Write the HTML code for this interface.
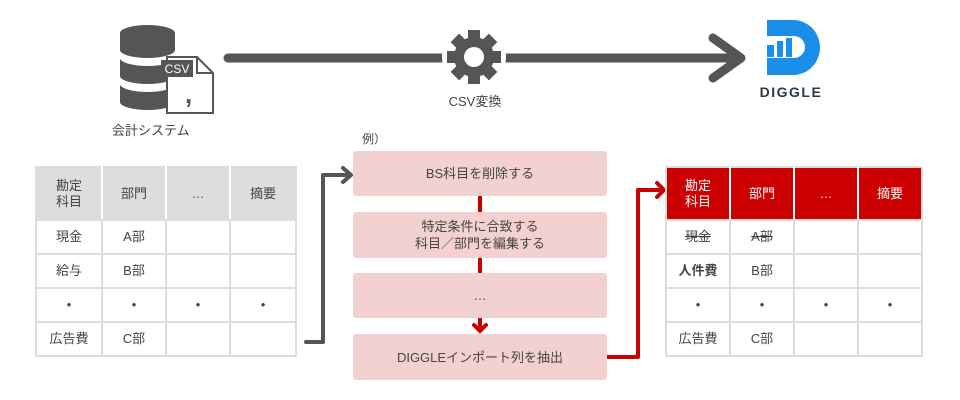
<!DOCTYPE html>
<html><head><meta charset="utf-8"><style>
body{margin:0;width:960px;height:400px;background:#fff;position:relative;overflow:hidden;font-family:"Liberation Sans","Noto Sans CJK JP",sans-serif;color:#444;}
.abs{position:absolute}
table{position:absolute;border-collapse:collapse;table-layout:fixed}
td{border:2px solid #ddd;text-align:center;font-size:13px;height:32px;padding:0;color:#444;line-height:16px}
.box{position:absolute;left:353px;width:254px;background:#f4d1d1;border-radius:3px;display:flex;align-items:center;justify-content:center;text-align:center;font-size:13px;color:#444;line-height:17px}
</style></head><body>
<svg class="abs" style="left:0;top:0" width="960" height="400">
 <line x1="228" y1="58" x2="740" y2="58" stroke="#555" stroke-width="9" stroke-linecap="round"/>
 <polyline points="713,38 741,58 713,78" fill="none" stroke="#555" stroke-width="9" stroke-linecap="round" stroke-linejoin="round"/>
 <circle cx="474" cy="57" r="32" fill="#fff"/>
 <g fill="#555" transform="translate(474,57)">
  <circle r="20"/>
  <g id="t"><rect x="-6" y="-27" width="12" height="12"/></g>
  <use href="#t" transform="rotate(45)"/><use href="#t" transform="rotate(90)"/><use href="#t" transform="rotate(135)"/>
  <use href="#t" transform="rotate(180)"/><use href="#t" transform="rotate(225)"/><use href="#t" transform="rotate(270)"/><use href="#t" transform="rotate(315)"/>
  <circle r="10" fill="#fff"/>
 </g>
 <g fill="#555">
  <path d="M120,33 a27.5,8 0 0 1 55,0 v17 a27.5,8 0 0 1 -55,0z"/>
  <path d="M120,58 a27.5,8 0 0 0 55,0 v18 a27.5,8 0 0 1 -55,0z"/>
  <path d="M120,84 a27.5,8 0 0 0 55,0 v18 a27.5,8 0 0 1 -55,0z"/>
 </g>
 <path d="M167,57 h30 l16,16 v40 h-46z" fill="#fff" stroke="#555" stroke-width="2"/>
 <path d="M197,57 v16 h16" fill="none" stroke="#555" stroke-width="2"/>
 <rect x="161" y="60" width="32" height="17" fill="#555"/>
 <text x="177" y="73" font-size="12" fill="#fff" text-anchor="middle" font-family="Liberation Sans">CSV</text>
 <text x="185" y="103" font-size="26" font-weight="bold" fill="#555" font-family="Liberation Sans">,</text>
 <!-- DIGGLE logo -->
 <path fill-rule="evenodd" fill="#1a8ee8" d="M767,20 h26 a27,27.5 0 0 1 0,55 h-26 z M767,36 h27 a11,11 0 0 1 0,22 h-27 z"/>
 <rect x="767" y="45" width="7" height="12" fill="#1a8ee8"/>
 <rect x="777" y="41" width="6" height="16" fill="#1a8ee8"/>
 <rect x="786" y="38" width="6" height="19" fill="#1a8ee8"/>
 <text x="791" y="97" font-size="14" font-weight="bold" fill="#2a3a44" text-anchor="middle" letter-spacing="1.5" font-family="Liberation Sans">DIGGLE</text>
 <polyline points="306,342 323,342 323,175 350,175" fill="none" stroke="#555" stroke-width="4" stroke-linejoin="round" stroke-linecap="round"/>
 <polyline points="343,168 351,175 343,182" fill="none" stroke="#555" stroke-width="4" stroke-linecap="round" stroke-linejoin="round"/>
 <line x1="480" y1="196" x2="480" y2="212" stroke="#c00" stroke-width="4"/>
 <line x1="480" y1="258" x2="480" y2="273" stroke="#c00" stroke-width="4"/>
 <line x1="480" y1="318" x2="480" y2="331" stroke="#c00" stroke-width="4"/>
 <polyline points="474,325 480,331 486,325" fill="none" stroke="#c00" stroke-width="4" stroke-linecap="round"/>
 <polyline points="607,357 638,357 638,190 663,190" fill="none" stroke="#c00" stroke-width="4" stroke-linejoin="round"/>
 <polyline points="657,183 664,190 657,197" fill="none" stroke="#c00" stroke-width="4" stroke-linecap="round" stroke-linejoin="round"/>
</svg>
<div class="abs" style="left:112px;top:120px;text-align:center;font-size:13px;color:#444;white-space:nowrap;width:72px">会計システム</div>
<div class="abs" style="left:444px;top:91px;width:62px;text-align:center;font-size:13px;white-space:nowrap">CSV変換</div>
<div class="abs" style="left:362px;top:130px;font-size:12px">例）</div>

<table style="left:35px;top:166px;width:260px">
<col style="width:66px"><col style="width:64px"><col style="width:64px"><col style="width:66px">
<tr style="background:#ddd"><td style="height:51px;border-color:#ddd #fff #ddd #ddd">勘定<br>科目</td><td style="border-color:#ddd #fff">部門</td><td style="border-color:#ddd #fff">…</td><td style="border-color:#ddd #ddd #ddd #fff">摘要</td></tr>
<tr><td>現金</td><td>A部</td><td></td><td></td></tr>
<tr><td>給与</td><td>B部</td><td></td><td></td></tr>
<tr><td>•</td><td>•</td><td>•</td><td>•</td></tr>
<tr><td>広告費</td><td>C部</td><td></td><td></td></tr>
</table>

<div class="box" style="top:151px;height:45px">BS科目を削除する</div>
<div class="box" style="top:212px;height:46px">特定条件に合致する<br>科目／部門を編集する</div>
<div class="box" style="top:273px;height:45px">…</div>
<div class="box" style="top:334px;height:46px">DIGGLEインポート列を抽出</div>

<table style="left:665px;top:166px;width:256px">
<col style="width:64px"><col style="width:64px"><col style="width:64px"><col style="width:64px">
<tr style="background:#c00"><td style="height:51px;color:#fff;border-color:#ddd #fff #ddd #ddd">勘定<br>科目</td><td style="color:#fff;border-color:#ddd #fff">部門</td><td style="color:#fff;border-color:#ddd #fff">…</td><td style="color:#fff;border-color:#ddd #ddd #ddd #fff">摘要</td></tr>
<tr><td><s>現金</s></td><td><s>A部</s></td><td></td><td></td></tr>
<tr><td style="font-weight:bold">人件費</td><td>B部</td><td></td><td></td></tr>
<tr><td>•</td><td>•</td><td>•</td><td>•</td></tr>
<tr><td>広告費</td><td>C部</td><td></td><td></td></tr>
</table>
</body></html>
